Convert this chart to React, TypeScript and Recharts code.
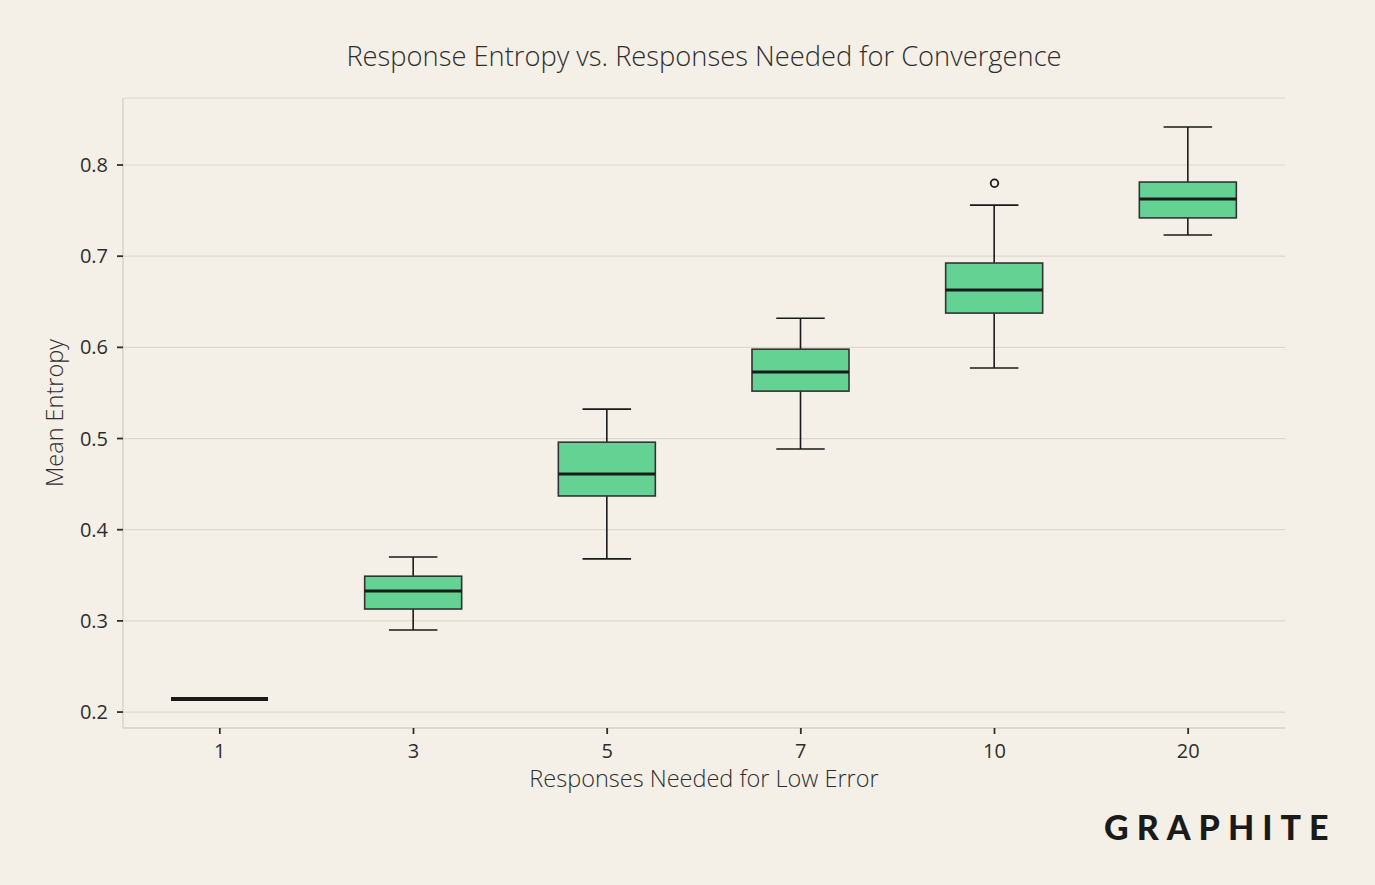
import { ComposedChart, Bar, Scatter, XAxis, YAxis, CartesianGrid, Label } from 'recharts'

const categories = ['1', '3', '5', '7', '10', '20']
const whiskerLow = [0.2143, 0.29, 0.368, 0.4885, 0.5773, 0.7232]
const q1 = [0.2143, 0.313, 0.437, 0.552, 0.6376, 0.742]
const median = [0.2143, 0.3327, 0.461, 0.573, 0.663, 0.7627]
const q3 = [0.2143, 0.349, 0.496, 0.598, 0.6925, 0.7813]
const whiskerHigh = [0.2143, 0.37, 0.5323, 0.632, 0.756, 0.8417]
const outlierValues = [null, null, null, null, 0.78, null]
const yTicks = [0.2, 0.3, 0.4, 0.5, 0.6, 0.7, 0.8]

const data = categories.map((label, i) => ({
  label,
  low: whiskerLow[i],
  q1: q1[i],
  median: median[i],
  q3: q3[i],
  high: whiskerHigh[i],
  range: [whiskerLow[i], whiskerHigh[i]],
  outlier: outlierValues[i],
}))

const BG = '#f4f0e8'
const TEXT = '#2e2e2e'
const FONT = '"Open Sans", "Noto Sans", sans-serif'

function BoxShape(props: any) {
  const { x, y, width, height, payload } = props
  const top = Math.min(y, y + height)
  const bottom = Math.max(y, y + height)
  const span = payload.high - payload.low
  const toY = (v: number) => (span > 0 ? bottom - ((bottom - top) * (v - payload.low)) / span : y)
  const cx = x + width / 2
  const capHalf = width / 4
  const yQ1 = toY(payload.q1)
  const yQ3 = toY(payload.q3)
  const yMed = toY(payload.median)
  const yLow = toY(payload.low)
  const yHigh = toY(payload.high)
  const flat = span <= 0
  return (
    <g>
      {!flat && (
        <>
          <line x1={cx} x2={cx} y1={yHigh} y2={yQ3} stroke="#1a1a1a" strokeWidth={1.6} />
          <line x1={cx} x2={cx} y1={yQ1} y2={yLow} stroke="#1a1a1a" strokeWidth={1.6} />
          <line x1={cx - capHalf} x2={cx + capHalf} y1={yHigh} y2={yHigh} stroke="#1a1a1a" strokeWidth={1.6} />
          <line x1={cx - capHalf} x2={cx + capHalf} y1={yLow} y2={yLow} stroke="#1a1a1a" strokeWidth={1.6} />
          <rect x={x} y={yQ3} width={width} height={yQ1 - yQ3} fill="#64d293" stroke="#333333" strokeWidth={1.6} />
        </>
      )}
      <line x1={x} x2={x + width} y1={yMed} y2={yMed} stroke="#1a1a1a" strokeWidth={flat ? 4 : 3} />
    </g>
  )
}

function OutlierShape(props: any) {
  const { cx, cy, payload } = props
  if (payload == null || payload.outlier == null) return <g />
  return <circle cx={cx} cy={cy} r={3.8} fill="none" stroke="#1a1a1a" strokeWidth={1.8} />
}

function XTick(props: any) {
  const { x, y, payload } = props
  return (
    <text x={x} y={y} dy={23.5} textAnchor="middle" fill={TEXT} fontSize={20} fontFamily={FONT} fontWeight={400}>
      {payload.value}
    </text>
  )
}

function YTick(props: any) {
  const { x, y, payload } = props
  return (
    <text x={x} y={y} dx={-3} dy={7} textAnchor="end" fill={TEXT} fontSize={20} fontFamily={FONT} fontWeight={400}>
      {Number(payload.value).toFixed(1)}
    </text>
  )
}

export default function App() {
  return (
    <div style={{ position: 'absolute', left: 0, top: 0, width: 1375, height: 885, background: BG, fontFamily: FONT }}>
      <div
        style={{
          position: 'absolute',
          top: 37,
          left: 0,
          width: 1408,
          textAlign: 'center',
          fontSize: 27.3,
          color: TEXT,
          fontWeight: 300,
        }}
      >
        Response Entropy vs. Responses Needed for Convergence
      </div>
      <ComposedChart
        width={1375}
        height={885}
        data={data}
        margin={{ top: 98, right: 90, bottom: 97, left: 0 }}
        style={{ position: 'absolute', left: 0, top: 0 }}
      >
        <CartesianGrid horizontal vertical={false} stroke="#ddd8cf" strokeWidth={1.2} />
        <XAxis
          dataKey="label"
          height={60}
          axisLine={{ stroke: '#ddd8cf', strokeWidth: 1.8 }}
          tickLine={{ stroke: TEXT, strokeWidth: 1.8 }}
          tickSize={6}
          tickMargin={0}
          tick={XTick}
        >
          <Label
            value="Responses Needed for Low Error"
            position="insideTop"
            offset={42}
            style={{ fill: TEXT, fontSize: 23.5, fontFamily: FONT, fontWeight: 300 }}
          />
        </XAxis>
        <YAxis
          type="number"
          domain={[0.1825, 0.8735]}
          ticks={yTicks}
          width={123}
          allowDataOverflow
          axisLine={{ stroke: '#ddd8cf', strokeWidth: 1.8 }}
          tickLine={{ stroke: TEXT, strokeWidth: 1.8 }}
          tickSize={6}
          tickMargin={6}
          tick={YTick}
        >
          <Label
            value="Mean Entropy"
            angle={-90}
            position="insideLeft"
            offset={55}
            style={{ fill: TEXT, fontSize: 23.5, fontFamily: FONT, fontWeight: 300, textAnchor: 'middle' }}
          />
        </YAxis>
        <Bar dataKey="range" barSize={97} shape={BoxShape} isAnimationActive={false} />
        <Scatter dataKey="outlier" shape={OutlierShape} isAnimationActive={false} />
      </ComposedChart>
      <div
        style={{
          position: 'absolute',
          left: 1104,
          top: 806,
          fontSize: 34,
          fontWeight: 900,
          letterSpacing: 8,
          color: '#1a1a1a',
          fontFamily: 'Lato, "DejaVu Sans", sans-serif',
        }}
      >
        GRAPHITE
      </div>
    </div>
  )
}
